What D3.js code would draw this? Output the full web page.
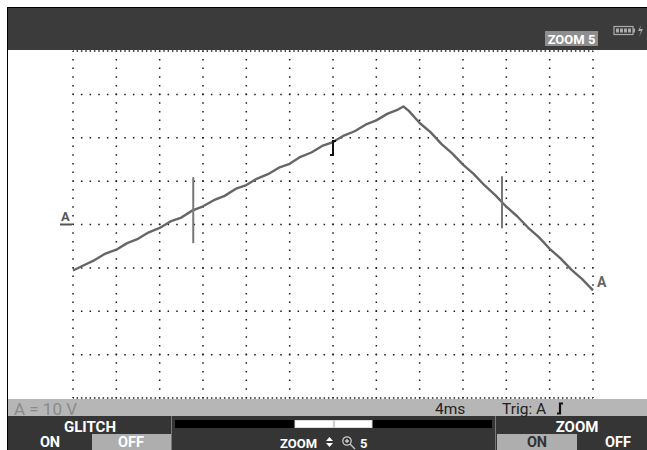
<!DOCTYPE html>
<html><head><meta charset="utf-8">
<script src="https://cdn.jsdelivr.net/npm/d3@7"></script>
<style>html,body{margin:0;padding:0;background:#fff;overflow:hidden}svg{display:block}</style>
</head><body>
<script>
// ---- data ----
const timeMs = [0,1,2,3,4,5,6,7,8,9,10,11,12,13,14,15,16,17,18,19,20,21,22,23,24,25,26,27,28,29,30,30.5,31,32,33,34,35,36,37,38,39,40,41,42,43,44,45,46,47,48];
const voltsA = [-10.6,-9.4,-8.2,-6.7,-5.8,-4.3,-3.3,-1.8,-0.8,0.7,1.6,3.2,4.2,5.6,6.6,8.2,9.1,10.6,11.6,13.1,14.0,15.6,16.6,18.1,19.0,20.5,21.5,23.0,24.0,25.5,26.5,27.2,26.2,23.4,21.3,18.6,16.4,13.8,11.6,9.0,6.7,4.1,1.9,-0.7,-2.9,-5.6,-7.8,-10.4,-12.6,-15.2];
const gridTimes = [0,4,8,12,16,20,24,28,32,36,40,44,48];
const gridVolts = [-40,-30,-20,-10,0,10,20,30,40];
const cursorTimes = [11.1, 39.6];
const cursorHalfSpan = [7.6, 6.0];
const triggerTime = 24;
const statusLabels = {range:"A = 10 V", timebase:"4ms", trig:"Trig: A"};

const W=647,H=450;
const svg=d3.select("body").append("svg").attr("width",W).attr("height",H);
const x=d3.scaleLinear().domain([0,48]).range([73,593]);
const y=d3.scaleLinear().domain([-40,40]).range([398,51]);
const FONT="Roboto, 'DejaVu Sans', sans-serif";

// frame & bars
svg.append("rect").attr("x",7).attr("y",7).attr("width",W-7).attr("height",H-7).attr("fill","#000");
svg.append("rect").attr("x",8).attr("y",8).attr("width",W-8).attr("height",42).attr("fill","#3b3b3b");
svg.append("rect").attr("x",8).attr("y",50).attr("width",W-8).attr("height",349).attr("fill","#fff");
svg.append("rect").attr("x",8).attr("y",399).attr("width",W-8).attr("height",17).attr("fill","#b6b6b6");
svg.append("rect").attr("x",8).attr("y",416).attr("width",W-8).attr("height",34).attr("fill","#353535");

// grid
const g=svg.append("g");
const div=x(4)-x(0);
gridTimes.forEach(t=>{
  g.append("line").attr("x1",x(t)).attr("x2",x(t)).attr("y1",y(40)).attr("y2",y(-40))
   .attr("stroke","#1a1a1a").attr("stroke-width",1.5)
   .attr("stroke-dasharray",`1.5 ${div/5-1.5}`).attr("stroke-dashoffset",0.75);
});
gridVolts.forEach(v=>{
  const edge=(v===40||v===-40);
  const step=edge?div/10:div/5;
  g.append("line").attr("x1",x(0)).attr("x2",x(48)).attr("y1",y(v)).attr("y2",y(v))
   .attr("stroke","#1a1a1a").attr("stroke-width",1.5)
   .attr("stroke-dasharray",`1.5 ${step-1.5}`).attr("stroke-dashoffset",0.75);
});

// trace
const pts=timeMs.map((t,i)=>[t,voltsA[i]]);
svg.append("path").datum(pts)
 .attr("d",d3.line().x(d=>x(d[0])).y(d=>y(d[1])))
 .attr("fill","none").attr("stroke","#666").attr("stroke-width",2.4).attr("stroke-linejoin","round");

// cursors
const interp=t=>{const i=d3.bisector(d=>d[0]).left(pts,t);const a=pts[Math.max(i-1,0)],b=pts[i];return a[1]+(b[1]-a[1])*(t-a[0])/(b[0]-a[0]);};
cursorTimes.forEach((t,i)=>{
  const v=interp(t);
  svg.append("line").attr("x1",x(t)).attr("x2",x(t)).attr("y1",y(v+cursorHalfSpan[i])).attr("y2",y(v-cursorHalfSpan[i]))
   .attr("stroke","#777").attr("stroke-width",2);
});

// trigger marker
{
  const tx=x(triggerTime), ty=y(interp(triggerTime));
  svg.append("path").attr("d",`M${tx+3},${ty-1} H${tx} V${ty+13} H${tx-3}`)
   .attr("fill","none").attr("stroke","#111").attr("stroke-width",2);
}

// A labels
svg.append("text").attr("x",61).attr("y",y(0)-4).text("A").attr("font-family",FONT).attr("font-weight","bold").attr("font-size",13).attr("fill","#555");
svg.append("line").attr("x1",60).attr("x2",72).attr("y1",y(0)).attr("y2",y(0)).attr("stroke","#555").attr("stroke-width",2);
svg.append("text").attr("x",x(48)+4).attr("y",y(-15.2)-3).text("A").attr("font-family",FONT).attr("font-weight","bold").attr("font-size",14).attr("fill","#666");

// top bar items
svg.append("rect").attr("x",545).attr("y",31).attr("width",53).attr("height",15).attr("fill","#8e8e8e");
svg.append("text").attr("x",571.5).attr("y",43.5).attr("text-anchor","middle").text("ZOOM 5").attr("font-family",FONT).attr("font-weight","bold").attr("font-size",13).attr("fill","#fff");
svg.append("rect").attr("x",614).attr("y",26.5).attr("width",19).attr("height",8).attr("fill","none").attr("stroke","#aaa").attr("stroke-width",1.2);
svg.append("rect").attr("x",633).attr("y",28.5).attr("width",2).attr("height",4).attr("fill","#aaa");
for(let k=0;k<4;k++) svg.append("rect").attr("x",616+k*4).attr("y",28.5).attr("width",3).attr("height",4).attr("fill","#aaa");
svg.append("path").attr("d","M641,25 L638,31 L641,31 L639,37 L643,29 L640,29 Z").attr("fill","#aaa");

// status bar
svg.append("text").attr("x",14).attr("y",414.5).text(statusLabels.range).attr("font-family",FONT).attr("font-size",17).attr("fill","#8a8a8a");
svg.append("text").attr("x",435).attr("y",414).text(statusLabels.timebase).attr("font-family",FONT).attr("font-size",15.5).attr("fill","#222");
svg.append("text").attr("x",502).attr("y",414).text(statusLabels.trig).attr("font-family",FONT).attr("font-size",15.5).attr("fill","#222");
svg.append("path").attr("d","M563,403.5 H560 V413.5 H557").attr("fill","none").attr("stroke","#111").attr("stroke-width",2.2);

// bottom: GLITCH panel
svg.append("text").attr("x",90).attr("y",431.5).attr("text-anchor","middle").text("GLITCH").attr("font-family",FONT).attr("font-weight","bold").attr("font-size",15).attr("fill","#fff");
svg.append("text").attr("x",50).attr("y",447).attr("text-anchor","middle").text("ON").attr("font-family",FONT).attr("font-weight","bold").attr("font-size",14.5).attr("fill","#fff");
svg.append("rect").attr("x",92).attr("y",434).attr("width",79).attr("height",16).attr("fill","#aeaeae");
svg.append("text").attr("x",131).attr("y",447).attr("text-anchor","middle").text("OFF").attr("font-family",FONT).attr("font-weight","bold").attr("font-size",14.5).attr("fill","#fff");
svg.append("line").attr("x1",171.5).attr("x2",171.5).attr("y1",416).attr("y2",450).attr("stroke","#777").attr("stroke-width",1);

// middle panel
svg.append("rect").attr("x",175).attr("y",420).attr("width",317).attr("height",8).attr("fill","#000");
svg.append("rect").attr("x",295).attr("y",420.5).attr("width",77).attr("height",7).attr("fill","#fff").attr("stroke","#ddd").attr("stroke-width",1);
svg.append("line").attr("x1",334).attr("x2",334).attr("y1",420.5).attr("y2",427.5).attr("stroke","#999").attr("stroke-width",1);
svg.append("text").attr("x",280).attr("y",448).text("ZOOM").attr("font-family",FONT).attr("font-weight","bold").attr("font-size",13).attr("fill","#fff");
svg.append("path").attr("d","M326,441 L329.5,437 L333,441 Z M326,443 L329.5,447 L333,443 Z").attr("fill","#fff");
svg.append("circle").attr("cx",347).attr("cy",441).attr("r",4.2).attr("fill","none").attr("stroke","#ccc").attr("stroke-width",1.3);
svg.append("path").attr("d","M345,441 H349 M347,439 V443 M350,444 L355,449").attr("stroke","#ccc").attr("stroke-width",1.3);
svg.append("text").attr("x",360).attr("y",448).text("5").attr("font-family",FONT).attr("font-weight","bold").attr("font-size",13).attr("fill","#fff");

// right panel
svg.append("line").attr("x1",495.5).attr("x2",495.5).attr("y1",416).attr("y2",450).attr("stroke","#777").attr("stroke-width",1);
svg.append("text").attr("x",577).attr("y",431.5).attr("text-anchor","middle").text("ZOOM").attr("font-family",FONT).attr("font-weight","bold").attr("font-size",15).attr("fill","#fff");
svg.append("rect").attr("x",497).attr("y",434).attr("width",80).attr("height",16).attr("fill","#aeaeae");
svg.append("text").attr("x",537).attr("y",447).attr("text-anchor","middle").text("ON").attr("font-family",FONT).attr("font-weight","bold").attr("font-size",14.5).attr("fill","#333");
svg.append("text").attr("x",618).attr("y",447).attr("text-anchor","middle").text("OFF").attr("font-family",FONT).attr("font-weight","bold").attr("font-size",14.5).attr("fill","#fff");
</script>
</body></html>
